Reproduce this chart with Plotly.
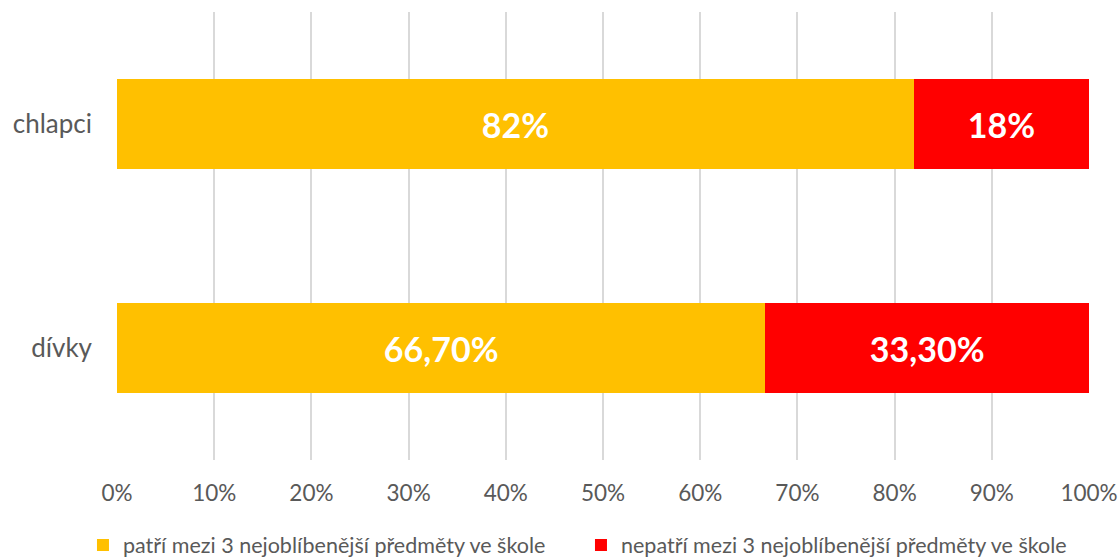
import plotly.graph_objects as go

categories = ["chlapci", "dívky"]
patri = [82.0, 66.7]
nepatri = [18.0, 33.3]
patri_labels = ["82%", "66,70%"]
nepatri_labels = ["18%", "33,30%"]
tick_vals = [0, 10, 20, 30, 40, 50, 60, 70, 80, 90, 100]
tick_text = ["0%", "10%", "20%", "30%", "40%", "50%", "60%", "70%", "80%", "90%", "100%"]

FONT = "Lato, 'Open Sans', sans-serif"

fig = go.Figure()
fig.add_trace(go.Bar(
    y=categories, x=patri, orientation="h",
    name="patří mezi 3 nejoblíbenější předměty ve škole",
    marker=dict(color="#FFC000", line=dict(width=0)),
    text=patri_labels, textposition="inside", insidetextanchor="middle",
    textfont=dict(color="white", size=34, family=FONT, weight="bold"),
    hoverinfo="skip",
))
fig.add_trace(go.Bar(
    y=categories, x=nepatri, orientation="h",
    name="nepatří mezi 3 nejoblíbenější předměty ve škole",
    marker=dict(color="#FF0000", line=dict(width=0)),
    text=nepatri_labels, textposition="inside", insidetextanchor="middle",
    textfont=dict(color="white", size=34, family=FONT, weight="bold"),
    hoverinfo="skip",
))

fig.update_layout(
    barmode="stack",
    bargap=0.6,
    width=1120, height=558,
    margin=dict(l=117, r=31, t=12, b=98, autoexpand=False),
    plot_bgcolor="white", paper_bgcolor="white",
    font=dict(family=FONT, color="#595959"),
    uniformtext=dict(mode="show", minsize=10),
    legend=dict(
        orientation="h", x=-0.035, xanchor="left", y=-0.19, yanchor="middle",
        font=dict(size=21.5, color="#595959", family=FONT),
        itemwidth=30, traceorder="normal",
        entrywidth=453, entrywidthmode="pixels",
    ),
    xaxis=dict(
        range=[0, 100], tickvals=tick_vals, ticktext=tick_text,
        showgrid=True, gridcolor="#D9D9D9", gridwidth=2,
        zeroline=False, showline=False, automargin=False,
        tickfont=dict(size=22.5, color="#595959", family=FONT),
        ticklabelstandoff=17, ticklabeloverflow="allow",
    ),
    yaxis=dict(
        autorange="reversed", showgrid=False, showline=False, zeroline=False,
        automargin=False,
        tickfont=dict(size=26, color="#595959", family=FONT),
        ticklabelstandoff=24,
    ),
)

fig.write_html(
    "out.html",
    config={"displayModeBar": False},
    post_script="document.body.style.margin='0';document.body.style.overflow='hidden';",
)
